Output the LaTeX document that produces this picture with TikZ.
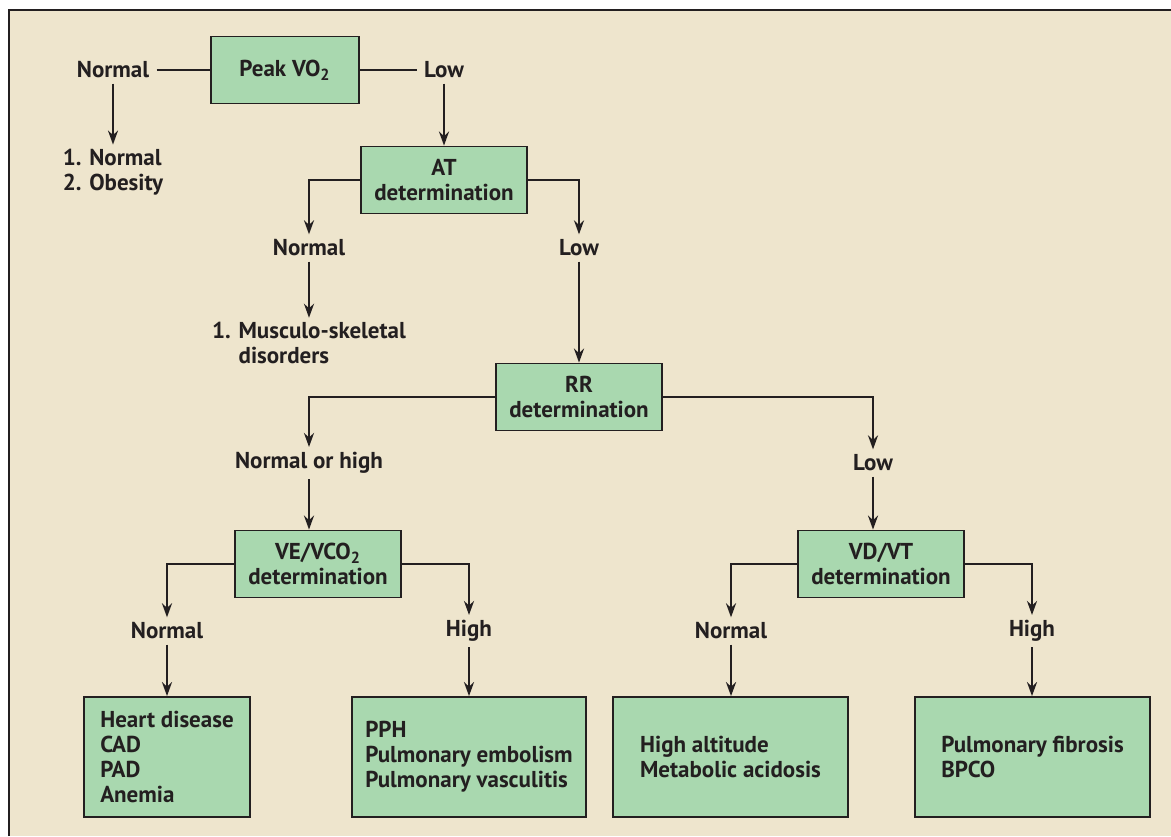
\documentclass[tikz,border=0pt]{standalone}
\usepackage{fontspec}
\setmainfont{PT Sans}
\usetikzlibrary{arrows.meta}
\definecolor{paper}{HTML}{EEE5CD}
\definecolor{boxgreen}{HTML}{A9D8AF}
\definecolor{ink}{HTML}{231F20}

\begin{document}
\begin{tikzpicture}[x=0.5pt,y=-0.5pt]
    \tikzstyle{box}=[rectangle,draw=ink,fill=boxgreen,line width=0.9pt,align=center,minimum width=83pt,minimum height=33.5pt,inner sep=2pt]
    \tikzstyle{result}=[box,align=left,minimum height=60pt]
    \tikzstyle{answer}=[inner xsep=3.5pt,inner ysep=2.5pt]
    \tikzstyle{outcome}=[align=left,inner sep=2pt]
    \tikzstyle{wire}=[draw=ink,line width=1.4pt]
    \tikzstyle{arr}=[wire,-{Stealth[length=7pt,width=5pt]}]
    \useasboundingbox (0,0) rectangle (1171,836);
    \fill[paper] (9,10) rectangle (1171,836);
    \draw[ink,line width=1.3pt] (9,836) -- (9,10) -- (1171,10);
    \begin{scope}[font=\fontsize{11.5}{12.5}\selectfont\bfseries,text=ink]
    % first test
    \node (peak)[box,minimum width=74pt] at (285,70) {Peak VO\textsubscript{2}};
    \node (nrm1)[answer] at (113,70) {Normal};
    \node (low1)[answer] at (444,70) {Low};
    \node (obes)[outcome] at (113,172) {1. Normal\\2. Obesity};
    \node (at)[box] at (444,180) {AT\\determination};
    \node (atn)[answer] at (309,248) {Normal};
    \node (atl)[answer] at (579,248) {Low};
    \node (msk)[outcome] at (309,343) {1. Musculo-skeletal\\\phantom{1. }disorders};
    % second level
    \node (rr)[box] at (579,397) {RR\\determination};
    \node (rrn)[answer] at (309,463) {Normal or high};
    \node (rrl)[answer] at (873,463) {Low};
    \node (ve)[box] at (318,564) {VE/VCO\textsubscript{2}\\determination};
    \node (vd)[box] at (881,564) {VD/VT\\determination};
    \node (ven)[answer] at (167,631) {Normal};
    \node (veh)[answer] at (469,631) {High};
    \node (vdn)[answer] at (731,631) {Normal};
    \node (vdh)[answer] at (1032,631) {High};
    % diagnoses
    \node (heart)[result] at (167,757) {Heart disease\\CAD\\PAD\\Anemia};
    \node (pulm)[result,minimum width=117pt] at (469,757) {PPH\\Pulmonary embolism\\Pulmonary vasculitis};
    \node (meta)[result,minimum width=117.5pt] at (730.5,757) {High altitude\\Metabolic acidosis};
    \node (fibr)[result,minimum width=117.5pt] at (1032.5,757) {Pulmonary fibrosis\\BPCO};
    \end{scope}
    \draw[wire] (nrm1) -- (peak) -- (low1);
    \draw[arr] (nrm1.south) -- (obes.north);
    \draw[arr] (low1.south) -- (at.north);
    \draw[arr] (at.west) -| (atn.north);
    \draw[arr] (at.east) -| (atl.north);
    \draw[arr] (atn.south) -- (msk.north);
    \draw[arr] (atl.south) -- (rr.north);
    \draw[arr] (rr.west) -| (rrn.north);
    \draw[arr] (rr.east) -| (rrl.north);
    \draw[arr] (rrn.south) -- (rrn.south |- ve.north);
    \draw[arr] (rrl.south) -- (rrl.south |- vd.north);
    \draw[arr] (ve.west) -| (ven.north);
    \draw[arr] (ve.east) -| (veh.north);
    \draw[arr] (vd.west) -| (vdn.north);
    \draw[arr] (vd.east) -| (vdh.north);
    \draw[arr] (ven.south) -- (heart.north);
    \draw[arr] (veh.south) -- (pulm.north);
    \draw[arr] (vdn.south) -- (vdn.south |- meta.north);
    \draw[arr] (vdh.south) -- (vdh.south |- fibr.north);
\end{tikzpicture}
\end{document}
